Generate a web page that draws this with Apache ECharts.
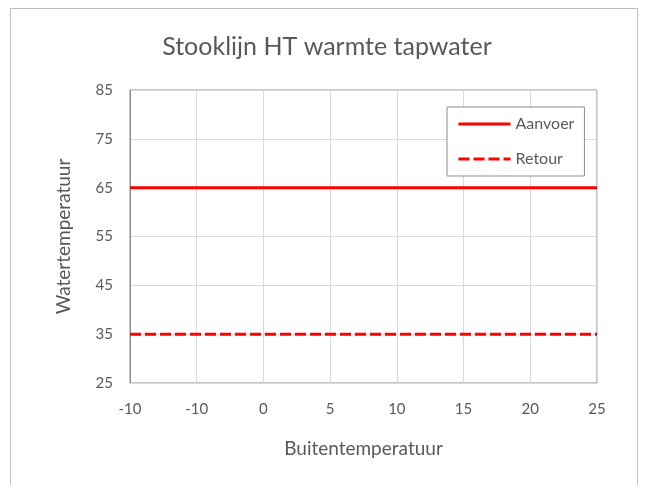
<!DOCTYPE html>
<html><head><meta charset="utf-8">
<script src="https://cdn.jsdelivr.net/npm/echarts@6/dist/echarts.min.js"></script>
<style>html,body{margin:0;padding:0;background:#fff}#c{width:654px;height:485px}</style>
</head><body><div id="c"></div>
<script>
const categories = ['-10','-10','0','5','10','15','20','25'];
const aanvoer = [65,65,65,65,65,65,65,65];
const retour = [35,35,35,35,35,35,35,35];
const yTicks = {min:25, max:85, interval:10};

const chart = echarts.init(document.getElementById('c'), null, {renderer:'canvas'});
const F = 'Lato, "Noto Sans", sans-serif';
chart.setOption({
  animation:false,
  textStyle:{fontFamily:F},
  graphic:[{type:'rect', shape:{x:10.5,y:8.5,width:627,height:490}, style:{fill:'none', stroke:'#bfbfbf', lineWidth:1}, z:-1}],
  title:{text:'Stooklijn HT warmte tapwater', left:'center', top:29, textStyle:{fontFamily:F, fontSize:25, fontWeight:'normal', color:'#595959'}},
  grid:{left:130, right:57, top:90, bottom:102, show:true, borderColor:'#8c8c8c', borderWidth:1, containLabel:false},
  legend:{
    orient:'vertical', left:447, top:107,
    padding:[9,10,9,10], itemGap:19,
    backgroundColor:'#fff', borderColor:'#8c8c8c', borderWidth:1,
    itemWidth:52, itemHeight:16,
    itemStyle:{opacity:0},
    lineStyle:{width:3},
    textStyle:{fontFamily:F, fontSize:16, color:'#595959'},
    data:['Aanvoer','Retour']
  },
  xAxis:{
    type:'category', data:categories, boundaryGap:false,
    name:'Buitentemperatuur', nameLocation:'middle', nameGap:56,
    nameTextStyle:{fontFamily:F, fontSize:19, color:'#595959'},
    axisLine:{lineStyle:{color:'#d9d9d9', width:1}},
    axisTick:{show:false},
    axisLabel:{fontFamily:F, fontSize:15, color:'#595959', margin:19, interval:0},
    splitLine:{show:true, lineStyle:{color:'#d9d9d9', width:1}}
  },
  yAxis:{
    type:'value', min:yTicks.min, max:yTicks.max, interval:yTicks.interval,
    name:'Watertemperatuur', nameLocation:'middle', nameGap:57,
    nameTextStyle:{fontFamily:F, fontSize:19, color:'#595959'},
    axisLine:{show:true, lineStyle:{color:'#8c8c8c', width:1}},
    axisTick:{show:false},
    axisLabel:{fontFamily:F, fontSize:15, color:'#595959', margin:17},
    splitLine:{show:true, lineStyle:{color:'#d9d9d9', width:1}}
  },
  series:[
    {name:'Aanvoer', type:'line', data:aanvoer, showSymbol:false, symbol:'none',
     lineStyle:{color:'#ff0000', width:3}, itemStyle:{color:'#ff0000'}},
    {name:'Retour', type:'line', data:retour, showSymbol:false, symbol:'none',
     lineStyle:{color:'#ff0000', width:3, type:[11,4]}, itemStyle:{color:'#ff0000'}}
  ]
});
</script></body></html>
